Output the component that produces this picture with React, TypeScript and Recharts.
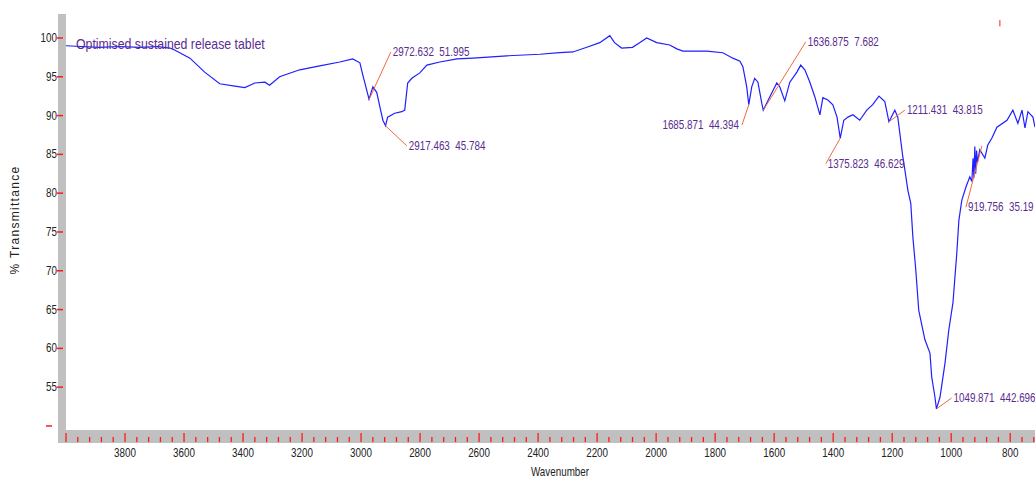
import { LineChart, Line, XAxis, YAxis, ReferenceLine, ReferenceDot, Label } from 'recharts';

// FTIR spectrum
const wavenumbers = [
  4000, 3950, 3886, 3820, 3750, 3690, 3648, 3632, 3580, 3530, 3479, 3428, 3394, 3360, 3326, 3310,
  3276, 3208, 3140, 3072, 3028, 3004, 2994, 2981, 2973, 2960, 2947, 2936, 2926, 2917, 2910, 2886,
  2862, 2852, 2842, 2828, 2801, 2777, 2733, 2675, 2621, 2506, 2394, 2327, 2282, 2235, 2191, 2157,
  2141, 2117, 2080, 2056, 2032, 1998, 1954, 1930, 1909, 1828, 1774, 1740, 1716, 1706, 1693, 1686,
  1676, 1666, 1655, 1642, 1637, 1615, 1591, 1581, 1564, 1547, 1523, 1510, 1496, 1479, 1462, 1445,
  1435, 1418, 1401, 1387, 1376, 1364, 1350, 1333, 1310, 1286, 1266, 1245, 1225, 1211, 1191, 1181,
  1164, 1157, 1147, 1137, 1130, 1120, 1110, 1089, 1072, 1066, 1055, 1050, 1038, 1021, 1008, 994,
  981, 974, 964, 950, 937, 930, 926, 923, 920, 917, 914, 911, 903, 886, 876, 862,
  845, 811, 791, 774, 760, 750, 740, 723, 716,
];
const transmittance = [
  99.0, 98.9, 98.8, 98.9, 98.8, 98.9, 98.7, 98.45, 97.4, 95.6, 94.1, 93.8, 93.6, 94.2, 94.3, 93.9,
  95.0, 95.9, 96.4, 96.9, 97.3, 96.8, 95.2, 93.3, 92.1, 93.7, 93.0, 91.1, 89.4, 88.7, 89.8, 90.3,
  90.5, 90.7, 94.2, 94.8, 95.5, 96.5, 96.9, 97.3, 97.4, 97.7, 97.9, 98.1, 98.2, 98.8, 99.4, 100.3,
  99.4, 98.7, 98.8, 99.4, 100.0, 99.4, 99.1, 98.6, 98.3, 98.3, 98.1, 97.4, 97.0, 96.3, 93.7, 91.4,
  93.7, 94.8, 94.3, 91.6, 90.7, 92.4, 94.2, 93.7, 91.9, 94.3, 95.6, 96.5, 95.9, 94.3, 92.4, 90.1,
  92.3, 92.0, 91.4, 89.8, 87.1, 89.4, 89.8, 90.1, 89.4, 90.7, 91.4, 92.5, 91.8, 89.2, 90.7, 89.8,
  84.7, 83.0, 80.4, 78.7, 74.4, 70.1, 64.9, 61.1, 59.4, 56.3, 53.7, 52.2, 53.7, 58.1, 62.4, 65.9,
  72.3, 76.5, 79.1, 80.8, 82.1, 81.5, 84.5, 82.0, 86.0, 82.5, 85.5, 84.0, 85.6, 84.5, 86.2, 87.1,
  88.5, 89.4, 90.7, 89.0, 90.7, 88.4, 90.5, 89.8, 88.5,
];

const majorTicks = [4000, 3800, 3600, 3400, 3200, 3000, 2800, 2600, 2400, 2200, 2000, 1800, 1600, 1400, 1200, 1000, 800];
const yTicks = [50, 55, 60, 65, 70, 75, 80, 85, 90, 95, 100];

// peak labels: line from peak to label anchor, text at the anchor
const peakLabels = [
  { text: '2972.632  51.995', peak: [2972.6, 92.1], anchor: [2899, 98.2], side: 'right' },
  { text: '2917.463  45.784', peak: [2917.5, 88.7], anchor: [2845, 86.1], side: 'right' },
  { text: '1685.871  44.394', peak: [1685.9, 91.4], anchor: [1709, 88.8], side: 'left' },
  { text: '1636.875  7.682', peak: [1636.9, 90.7], anchor: [1493, 99.5], side: 'right' },
  { text: '1375.823  46.629', peak: [1375.8, 87.1], anchor: [1425, 83.8], side: 'right' },
  { text: '1211.431  43.815', peak: [1211.4, 89.2], anchor: [1157, 90.7], side: 'right' },
  { text: '919.756  35.19', peak: [896, 86.1], anchor: [950, 78.2], side: 'right' },
  { text: '1049.871  442.696', peak: [1049.9, 52.2], anchor: [999, 53.6], side: 'right' },
];

const data = wavenumbers.map((w, i) => ({ w, t: transmittance[i] }));

const minorTicks: number[] = [];
for (let i = 0; i < majorTicks.length - 1; i++) {
  for (let k = 0; k < 5; k++) minorTicks.push(majorTicks[i] - k * 40);
}
minorTicks.push(800, 760, 720);

const FONT = "'Liberation Sans', Arial, sans-serif";
const NARROW = 0.82; // no Arial Narrow installed, squeeze Liberation Sans instead
const PURPLE = '#5b2c8f';
const TICK_RED = '#ff1a1a';

// narrow text: draws Liberation Sans squeezed horizontally
const NText = ({ x, y, anchor = 'start', size = 12, fill = '#222', children }: any) => (
  <text
    transform={`translate(${x} ${y}) scale(${NARROW} 1)`}
    x={0}
    y={0}
    textAnchor={anchor}
    fontSize={size}
    fontFamily={FONT}
    fill={fill}
    style={{ whiteSpace: 'pre' }}
  >
    {children}
  </text>
);

const XTick = (props: any) => {
  const { x, y, payload } = props;
  const v = payload.value;
  const major = majorTicks.includes(v);
  return (
    <g>
      <line x1={x} x2={x} y1={major ? y + 3 : y + 7} y2={y + 12} stroke={TICK_RED} strokeWidth={1.3} />
      {major && v !== 4000 && (
        <NText x={x} y={y + 27} anchor="middle">
          {v}
        </NText>
      )}
    </g>
  );
};

const YTick = (props: any) => {
  const { x, y, payload } = props;
  if (payload.value === 50) {
    return <line x1={x - 20} x2={x - 14} y1={y} y2={y} stroke={TICK_RED} strokeWidth={1.5} />;
  }
  return (
    <g>
      <line x1={x - 9} x2={x - 3} y1={y} y2={y} stroke={TICK_RED} strokeWidth={1.5} />
      <NText x={x - 9} y={y + 4} anchor="end">
        {payload.value}
      </NText>
    </g>
  );
};

export default function App() {
  return (
    <div style={{ position: 'absolute', left: 0, top: 0, width: 1035, height: 478, background: '#fff', overflow: 'hidden' }}>
      {/* grey axis bars */}
      <div style={{ position: 'absolute', left: 58, top: 14, width: 8, height: 429, background: '#c0c0c0' }} />
      <div style={{ position: 'absolute', left: 58, top: 430, width: 977, height: 13, background: '#c0c0c0' }} />
      <div style={{ position: 'absolute', left: 0, top: 0 }}>
        <LineChart width={1035} height={478} data={data} margin={{ top: 14, right: 0, left: 0, bottom: 0 }}>
          <XAxis
            dataKey="w"
            type="number"
            domain={[716, 4000]}
            reversed
            ticks={minorTicks}
            interval={0}
            tick={<XTick />}
            tickLine={false}
            tickSize={0}
            tickMargin={0}
            axisLine={false}
            height={48}
            allowDataOverflow
          >
            <Label
              content={() => (
                <NText x={560} y={476} anchor="middle">
                  Wavenumber
                </NText>
              )}
            />
          </XAxis>
          <YAxis
            type="number"
            domain={[49.48, 103.09]}
            ticks={yTicks}
            interval={0}
            tick={<YTick />}
            tickLine={false}
            tickSize={0}
            tickMargin={0}
            axisLine={false}
            width={66}
            allowDataOverflow
          >
            <Label
              content={() => (
                <text
                  x={19}
                  y={220}
                  transform="rotate(-90 19 220)"
                  textAnchor="middle"
                  fontSize={12}
                  letterSpacing={1.3}
                  fontFamily={FONT}
                  fill="#222"
                >
                  % Transmittance
                </text>
              )}
            />
          </YAxis>
          <Line
            type="linear"
            dataKey="t"
            stroke="#1f1fff"
            strokeWidth={1.2}
            dot={false}
            isAnimationActive={false}
          />
          {peakLabels.map((p) => (
            <ReferenceLine
              key={'l' + p.text}
              segment={[
                { x: p.peak[0], y: p.peak[1] },
                { x: p.anchor[0], y: p.anchor[1] },
              ]}
              stroke="#ee6a3f"
              strokeWidth={1}
            />
          ))}
          {peakLabels.map((p) => (
            <ReferenceDot
              key={'t' + p.text}
              x={p.anchor[0]}
              y={p.anchor[1]}
              r={0}
              shape={(s: any) => (
                <NText
                  x={p.side === 'left' ? s.cx - 3 : s.cx + 2}
                  y={s.cy + 4}
                  anchor={p.side === 'left' ? 'end' : 'start'}
                  fill={PURPLE}
                >
                  {p.text}
                </NText>
              )}
            />
          ))}
          <ReferenceLine segment={[{ x: 835, y: 102.3 }, { x: 835, y: 101.5 }]} stroke={TICK_RED} strokeWidth={1} />
        </LineChart>
      </div>
      <div
        style={{
          position: 'absolute',
          left: 76,
          top: 35,
          fontFamily: FONT,
          fontSize: 15,
          color: PURPLE,
          whiteSpace: 'nowrap',
          lineHeight: '18px',
          transform: `scaleX(${NARROW})`,
          transformOrigin: 'left top',
        }}
      >
        Optimised sustained release tablet
      </div>
    </div>
  );
}
